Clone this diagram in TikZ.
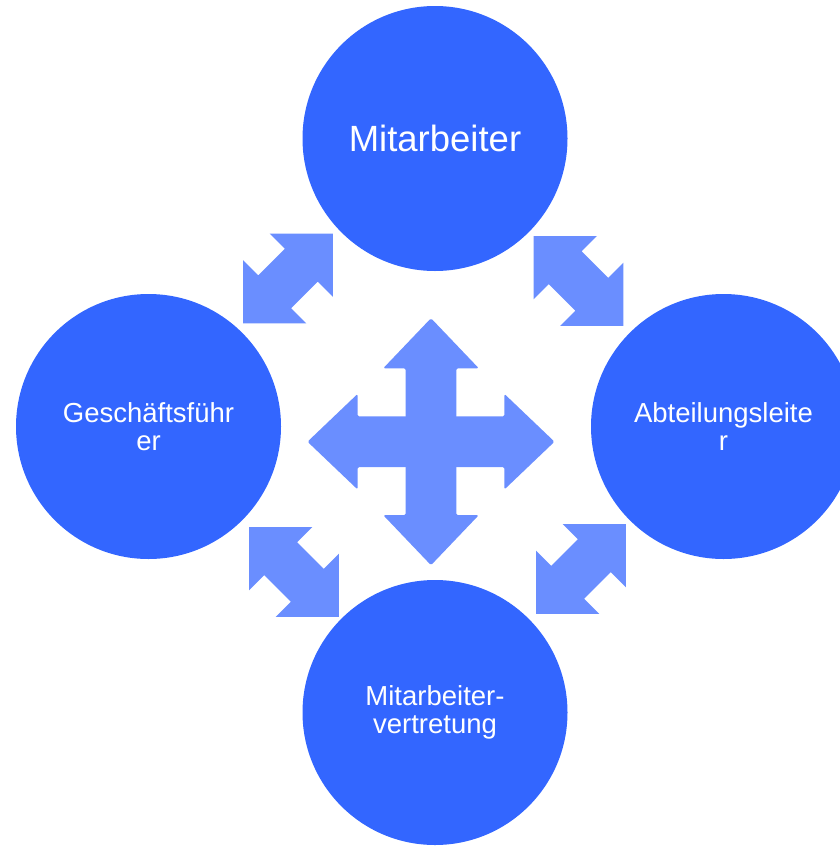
\documentclass[tikz,border=0pt]{standalone}
\usepackage{fontspec}
\setsansfont{Liberation Sans}
\definecolor{Cfill}{RGB}{51,102,255}
\definecolor{Afill}{RGB}{106,142,255}

\begin{document}
\begin{tikzpicture}[x=1pt,y=-1pt,
  role/.style={circle,fill=Cfill,minimum size=265pt,inner sep=0pt,align=center,text=white,
    font=\sffamily\fontsize{27.5}{28.5}\selectfont},
  link/.pic={\fill[Afill] (63.6,0) -- (18.8,44.8) -- (18.8,23.3) -- (-18.8,23.3) -- (-18.8,44.8)
    -- (-63.6,0) -- (-18.8,-44.8) -- (-18.8,-23.3) -- (18.8,-23.3) -- (18.8,-44.8) -- cycle;}]
\path[use as bounding box] (0,0) rectangle (840,846);
\clip (0,0) rectangle (840,846);
% circles
\node[role,font=\sffamily\fontsize{36.5}{38}\selectfont] (mit) at (435,138.5) {Mitarbeiter};
\node[role] (gf) at (148.5,426.5) {Geschäftsführ\\er};
\node[role] (al) at (723.5,426.5) {Abteilungsleite\\r};
\node[role] (mv) at (435,712.5) {Mitarbeiter-\\vertretung};
% double arrows between neighbours
\coordinate (gf-mit) at (288,278.5);
\coordinate (mit-al) at (578.5,281);
\coordinate (gf-mv) at (294,572);
\coordinate (mv-al) at (581,569);
\coordinate (hub) at (431,441.7);
\pic[rotate=45] at (gf-mit) {link};
\pic[rotate=-45] at (mit-al) {link};
\pic[rotate=-45] at (gf-mv) {link};
\pic[rotate=45] at (mv-al) {link};
% four way arrow
\begin{scope}[shift={(hub)}]
\foreach \ang in {0,90,180,270}
  \fill[Afill,rotate=\ang,rounded corners=1.5pt] (0,-25.3) -- (73.4,-25.3) -- (73.4,-47.8)
    -- (123.5,0) -- (73.4,47.8) -- (73.4,25.3) -- (0,25.3) -- cycle;
\end{scope}
\end{tikzpicture}
\end{document}
